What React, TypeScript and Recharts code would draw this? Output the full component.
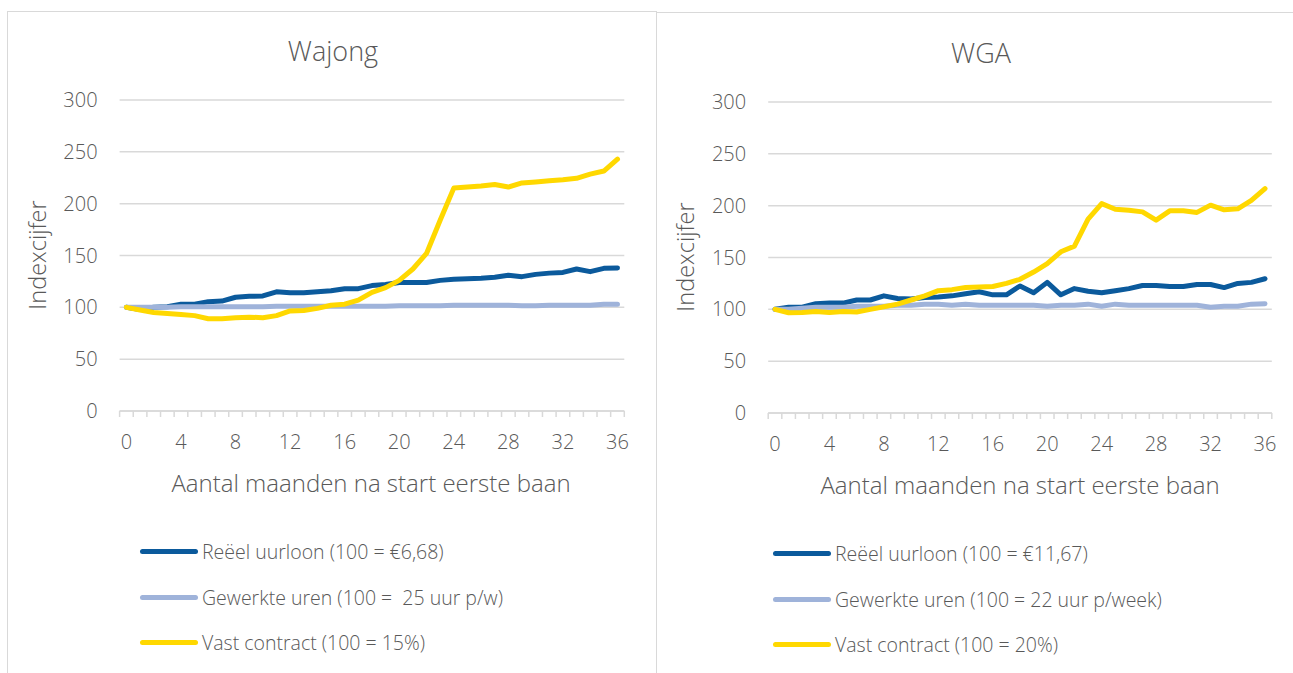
import React from 'react';
import { LineChart, Line, XAxis, YAxis, CartesianGrid } from 'recharts';

// Months since start of first job (categories on the x axis)
const months = [
  0, 1, 2, 3, 4, 5, 6, 7, 8, 9, 10, 11, 12, 13, 14, 15, 16, 17, 18,
  19, 20, 21, 22, 23, 24, 25, 26, 27, 28, 29, 30, 31, 32, 33, 34, 35, 36,
];
const monthTickLabels = [0, 4, 8, 12, 16, 20, 24, 28, 32, 36];
const indexTicks = [0, 50, 100, 150, 200, 250, 300];

// Wajong
const wajongLoon = [
  100, 98, 100, 100.6, 103, 103, 105.5, 106, 109.7, 110.6, 111, 115, 114, 114, 115, 116, 118, 118,
  121, 122, 124, 124, 124, 126, 127, 127.6, 128, 129, 130.9, 129.6, 131.8, 133, 133.7, 137, 134.4,
  137.6, 138,
];
const wajongUren = [
  100, 100, 100, 100, 100.5, 100.5, 100.5, 100.5, 100.5, 100.5, 100.5, 101, 101, 101, 101, 101, 101,
  101, 101, 101, 101.5, 101.5, 101.5, 101.5, 102, 102, 102, 102, 102, 101.5, 101.5, 102, 102, 102,
  102, 103, 103,
];
const wajongVast = [
  100, 97.5, 95, 94, 93, 92, 89, 89, 90, 90.5, 90, 92, 96.5, 97, 99, 102, 103, 107, 114.5, 119, 126,
  137, 152, 184, 215, 216, 217, 218.5, 216, 220, 221, 222, 223, 224.5, 228.5, 231.5, 243,
];

// WGA
const wgaLoon = [
  100, 102, 102, 105.5, 106, 106, 109, 109, 113, 110.5, 110, 111.5, 112, 113, 115, 117, 114, 114,
  122.5, 116, 126, 114, 120, 117.5, 116, 118, 120, 123, 123, 122, 122, 124, 124, 121, 125, 126, 129.5,
];
const wgaUren = [
  100, 100, 101, 102, 102, 102, 103, 103, 103, 104, 104, 105, 105, 104, 105, 104, 104, 104, 104, 104,
  103, 104, 104, 105, 103, 105, 104, 104, 104, 104, 104, 104, 102, 103, 103, 105, 105.5,
];
const wgaVast = [
  100, 96.7, 97, 98, 97, 98, 97.5, 100, 102.5, 105, 109, 113, 118, 119, 121, 121.5, 122, 125, 129,
  136, 144, 155.5, 161, 187, 202, 196.5, 195.5, 194, 186, 195, 195, 193.5, 200.5, 196, 197, 205, 216.5,
];

const wajongLegend = [
  'Reëel uurloon (100 = €6,68)',
  'Gewerkte uren (100 =  25 uur p/w)',
  'Vast contract (100 = 15%)',
];
const wgaLegend = [
  'Reëel uurloon (100 = €11,67)',
  'Gewerkte uren (100 = 22 uur p/week)',
  'Vast contract (100 = 20%)',
];

const COLORS = ['#0b5a9c', '#9fb3da', '#ffd800'];
const TEXT = '#595959';
const GRID = '#d9d9d9';
const FONT = '"Open Sans", sans-serif';
const WEIGHT = 300;

// Category boundaries carry the small tick marks; labels sit on the categories
const boundaries = [-0.5, ...months.map((m) => m + 0.5)];
const xTicks = [...boundaries, ...monthTickLabels].sort((a, b) => a - b);

const MonthTick = (props: any) => {
  const { x, y, payload } = props;
  const v = payload.value as number;
  if (!Number.isInteger(v)) {
    return <line x1={x} x2={x} y1={y} y2={y + 6} stroke={GRID} strokeWidth={1.5} />;
  }
  return (
    <text x={x} y={y + 31} dy="0.355em" textAnchor="middle" fill={TEXT} fontSize={20} fontFamily={FONT} fontWeight={WEIGHT}>
      {v}
    </text>
  );
};

type PanelProps = {
  width: number;
  height: number;
  yAxisWidth: number;
  margin: { top: number; right: number; bottom: number; left: number };
  loon: number[];
  uren: number[];
  vast: number[];
};

const Panel = ({ width, height, yAxisWidth, margin, loon, uren, vast }: PanelProps) => {
  const rows = months.map((m, i) => ({ month: m, loon: loon[i], uren: uren[i], vast: vast[i] }));
  return (
    <LineChart width={width} height={height} data={rows} margin={margin}>
      <CartesianGrid vertical={false} stroke={GRID} strokeWidth={1.5} />
      <XAxis
        dataKey="month"
        type="number"
        domain={[-0.5, 36.5]}
        ticks={xTicks}
        interval={0}
        tickSize={0}
        tickMargin={0}
        tickLine={false}
        axisLine={{ stroke: GRID, strokeWidth: 1.5 }}
        tick={<MonthTick />}
        height={30}
      />
      <YAxis
        type="number"
        domain={[0, 300]}
        ticks={indexTicks}
        interval={0}
        width={yAxisWidth}
        tickSize={0}
        tickMargin={22}
        axisLine={false}
        tickLine={false}
        tick={{ fill: TEXT, fontSize: 20, fontFamily: FONT, fontWeight: WEIGHT }}
      />
      <Line dataKey="loon" stroke={COLORS[0]} strokeWidth={5} dot={false} strokeLinecap="round" strokeLinejoin="round" isAnimationActive={false} />
      <Line dataKey="uren" stroke={COLORS[1]} strokeWidth={5} dot={false} strokeLinecap="round" strokeLinejoin="round" isAnimationActive={false} />
      <Line dataKey="vast" stroke={COLORS[2]} strokeWidth={5} dot={false} strokeLinecap="round" strokeLinejoin="round" isAnimationActive={false} />
    </LineChart>
  );
};

const abs = (left: number, top: number, extra: React.CSSProperties = {}): React.CSSProperties => ({
  position: 'absolute',
  left,
  top,
  ...extra,
});

const LegendBlock = ({ left, top, items }: { left: number; top: number; items: string[] }) => (
  <div style={abs(left, top)}>
    {items.map((label, i) => (
      <div key={label} style={{ display: 'flex', alignItems: 'center', height: 45.5 }}>
        <div style={{ width: 58, height: 5, borderRadius: 3, background: COLORS[i], marginRight: 4 }} />
        <span style={{ whiteSpace: 'pre', fontSize: 19.5, color: TEXT, fontFamily: FONT, fontWeight: WEIGHT }}>{label}</span>
      </div>
    ))}
  </div>
);

const Centered = ({ cx, cy, text, size, rotate }: { cx: number; cy: number; text: string; size: number; rotate?: boolean }) => (
  <div
    style={abs(cx, cy, {
      transform: `translate(-50%, -50%)${rotate ? ' rotate(-90deg)' : ''}`,
      fontSize: size,
      color: TEXT,
      fontFamily: FONT,
      fontWeight: WEIGHT,
      whiteSpace: 'nowrap',
      lineHeight: 1,
    })}
  >
    {text}
  </div>
);

export default function App() {
  return (
    <div style={{ position: 'absolute', left: 0, top: 0, width: 1293, height: 673, background: '#fff', overflow: 'hidden' }}>
      {/* panel frames */}
      <div style={abs(7, 11, { width: 648, height: 700, borderLeft: `1px solid ${GRID}`, borderTop: `1px solid ${GRID}`, borderRight: `1px solid ${GRID}` })} />
      <div style={abs(656, 12, { width: 640, height: 0, borderTop: `1px solid ${GRID}` })} />

      <div style={abs(0, 0)}>
        <Panel
          width={656}
          height={673}
          yAxisWidth={119.6}
          margin={{ top: 100, right: 31.7, bottom: 232, left: 0 }}
          loon={wajongLoon}
          uren={wajongUren}
          vast={wajongVast}
        />
      </div>
      <div style={abs(656, 0)}>
        <Panel
          width={637}
          height={673}
          yAxisWidth={112.2}
          margin={{ top: 102, right: 21.2, bottom: 230, left: 0 }}
          loon={wgaLoon}
          uren={wgaUren}
          vast={wgaVast}
        />
      </div>

      <Centered cx={333} cy={50} text="Wajong" size={27} />
      <Centered cx={981} cy={52} text="WGA" size={27} />
      <Centered cx={38} cy={255} text="Indexcijfer" size={23.5} rotate />
      <Centered cx={686} cy={257} text="Indexcijfer" size={23.5} rotate />
      <Centered cx={371} cy={483} text="Aantal maanden na start eerste baan" size={24} />
      <Centered cx={1020} cy={485} text="Aantal maanden na start eerste baan" size={24} />

      <LegendBlock left={140} top={529} items={wajongLegend} />
      <LegendBlock left={773} top={531} items={wgaLegend} />
    </div>
  );
}
